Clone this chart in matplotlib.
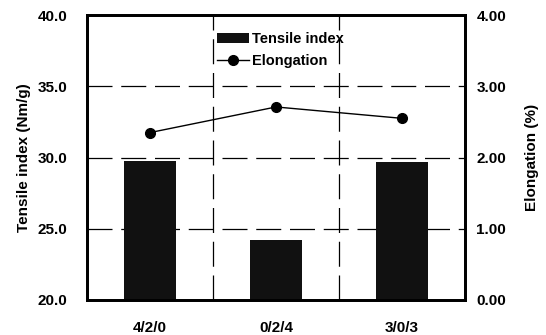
import numpy as np
import matplotlib.pyplot as plt

plt.rcParams['font.family'] = ['Liberation Sans', 'DejaVu Sans']
plt.rcParams['font.weight'] = 'bold'

categories = ['4/2/0', '0/2/4', '3/0/3']
tensile_index = [29.75, 24.2, 29.7]
elongation = [2.35, 2.71, 2.55]

x = np.arange(len(categories)) + 0.5

fig = plt.figure(figsize=(5.46, 3.35), dpi=100)
ax = fig.add_axes([0.159, 0.1045, 0.693, 0.8505])

grid_style = dict(color='black', linewidth=0.9, dashes=(20, 7), zorder=1)
for yv in [25, 30, 35]:
    ax.axhline(yv, **grid_style)
for xv in [1, 2]:
    ax.axvline(xv, **grid_style)

bars = ax.bar(x, tensile_index, width=0.41, color='#111111', zorder=2,
              label='Tensile index')
ax.set_xlim(0, 3)
ax.set_ylim(20, 40)
ax.set_yticks([20, 25, 30, 35, 40])
ax.set_yticklabels([f'{v:.1f}' for v in [20, 25, 30, 35, 40]])
ax.set_xticks(x)
ax.set_xticklabels(categories)
ax.set_ylabel('Tensile index (Nm/g)', fontsize=11, fontweight='bold', labelpad=5)
ax.tick_params(axis='y', length=0, labelsize=11, pad=14)
ax.tick_params(axis='x', length=0, labelsize=11, pad=15)

ax2 = ax.twinx()
line, = ax2.plot(x, elongation, color='black', linewidth=1, marker='o',
                 markersize=7, label='Elongation', zorder=3)
ax2.set_ylim(0, 4)
ax2.set_yticks([0, 1, 2, 3, 4])
ax2.set_yticklabels([f'{v:.2f}' for v in [0, 1, 2, 3, 4]])
ax2.set_ylabel('Elongation (%)', fontsize=11, fontweight='bold', labelpad=14)
ax2.tick_params(axis='y', length=0, labelsize=11, pad=8)

for a in (ax, ax2):
    for s in a.spines.values():
        s.set_linewidth(2)

leg = ax2.legend([bars, line], ['Tensile index', 'Elongation'],
                 loc='upper left', bbox_to_anchor=(0.325, 0.965), frameon=False,
                 fontsize=10.5, handlelength=2.2, handletextpad=0.2,
                 labelspacing=0.55, borderpad=0)
for t in leg.get_texts():
    t.set_fontweight('bold')

fig.savefig('out.png', dpi=100)
